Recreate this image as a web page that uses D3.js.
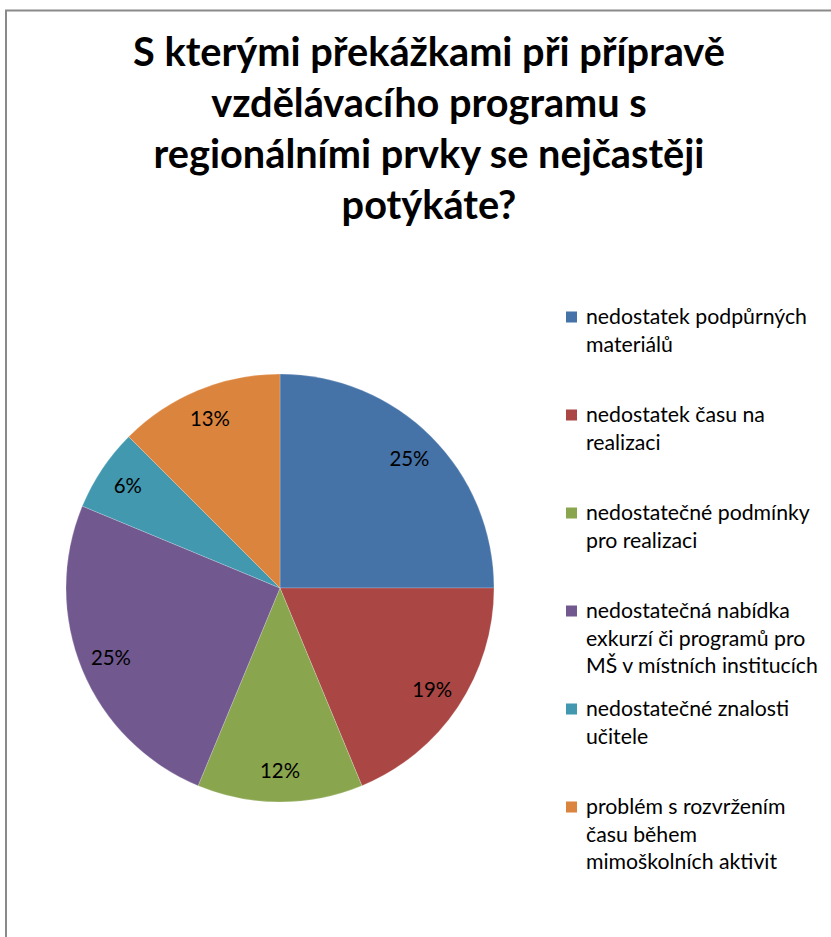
<!DOCTYPE html>
<meta charset="utf-8">
<style>
body { margin: 0; background: #fff; }
text { font-family: Lato, "Open Sans", "Noto Sans", sans-serif; fill: #000; }
.title text { font-weight: bold; }
</style>
<svg width="831" height="937"></svg>
<script src="https://d3js.org/d3.v7.min.js"></script>
<script>

var titleLines = ["S kterými překážkami při přípravě",
                  "vzdělávacího programu s",
                  "regionálními prvky se nejčastěji",
                  "potýkáte?"];

var categories = ["nedostatek podpůrných\nmateriálů",
                  "nedostatek času na\nrealizaci",
                  "nedostatečné podmínky\npro realizaci",
                  "nedostatečná nabídka\nexkurzí či programů pro\nMŠ v místních institucích",
                  "nedostatečné znalosti\nučitele",
                  "problém s rozvržením\nčasu během\nmimoškolních aktivit"];

// answer counts (16 responses)
var counts = [4, 3, 2, 4, 1, 2];
var percentLabels = ["25%", "19%", "12%", "25%", "6%", "13%"];
var colors = ["#4572A7", "#AA4643", "#89A54E", "#71588F", "#4198AF", "#DB843D"];

var svg = d3.select("svg"),
    width = +svg.attr("width"),
    height = +svg.attr("height");

// font size that makes a string a given width
function fitSize(str, weight, target) {
  var t = svg.append("text").attr("font-size", 100).attr("font-weight", weight).text(str);
  var w = t.node().getComputedTextLength();
  t.remove();
  return 100 * target / w;
}

var titleSize = fitSize(titleLines[0], "bold", 592),
    legendSize = fitSize("MŠ v místních institucích", "normal", 232),
    labelSize = fitSize("25%", "normal", 40);

// frame
svg.append("rect")
    .attr("x", 6).attr("y", 10.5)
    .attr("width", 900).attr("height", 1000)
    .attr("fill", "none")
    .attr("stroke", "#8a8a8a")
    .attr("stroke-width", 2);

// title
svg.append("g").attr("class", "title")
  .selectAll("text")
  .data(titleLines)
  .enter().append("text")
    .attr("x", 429)
    .attr("y", (d, i) => 66 + i * 51)
    .attr("text-anchor", "middle")
    .attr("font-size", titleSize)
    .text(d => d);

// pie
var cx = 280, cy = 588, radius = 214;

var pie = d3.pie().sort(null).value(d => d);
var arcs = pie(counts);

var arc = d3.arc().innerRadius(0).outerRadius(radius);
var labelArc = d3.arc().innerRadius(183).outerRadius(183);

var g = svg.append("g").attr("transform", "translate(" + cx + "," + cy + ")");

g.selectAll("path")
  .data(arcs)
  .enter().append("path")
    .attr("d", arc)
    .attr("fill", (d, i) => colors[i])
    .attr("stroke", "#fff")
    .attr("stroke-opacity", 0.35)
    .attr("stroke-width", 0.6);

g.selectAll("text")
  .data(arcs)
  .enter().append("text")
    .attr("transform", d => "translate(" + labelArc.centroid(d) + ")")
    .attr("text-anchor", "middle")
    .attr("dy", "0.35em")
    .attr("font-size", labelSize)
    .text((d, i) => percentLabels[i]);

// legend
var legendY = d3.scalePoint().domain(categories).range([317, 807]);

var item = svg.append("g").attr("class", "legend")
  .selectAll("g")
  .data(categories)
  .enter().append("g")
    .attr("transform", d => "translate(0," + legendY(d) + ")");

item.append("rect")
    .attr("x", 566).attr("y", -5.5)
    .attr("width", 11).attr("height", 11)
    .attr("fill", (d, i) => colors[i]);

item.append("text")
    .attr("font-size", legendSize)
  .selectAll("tspan")
  .data(d => d.split("\n"))
  .enter().append("tspan")
    .attr("x", 586)
    .attr("y", (d, i) => i * 27.5)
    .attr("dy", "0.35em")
    .text(d => d);

</script>
